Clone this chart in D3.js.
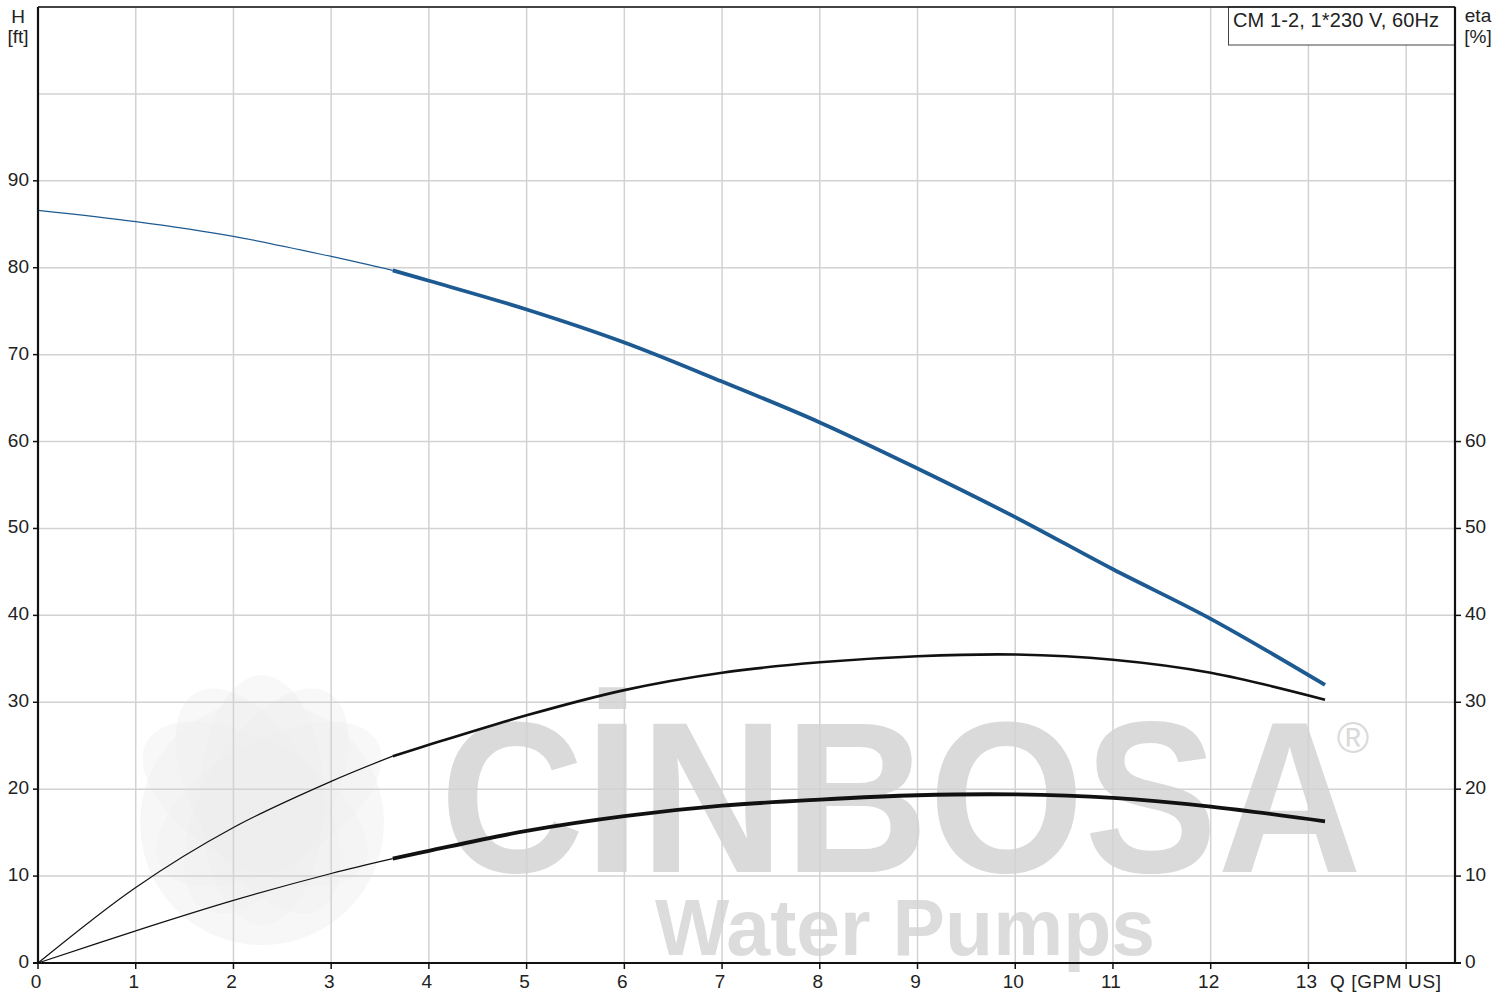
<!DOCTYPE html>
<html>
<head>
<meta charset="utf-8">
<script src="https://cdn.jsdelivr.net/npm/d3@7"></script>
<style>
  body { margin: 0; background: #fff; }
  text { font-family: "Liberation Sans", Arial, sans-serif; fill: #222; }
</style>
</head>
<body>
<div id="chart"></div>
<script>
// Données
const flow = [0, 1, 2, 3, 3.63, 4, 5, 6, 7, 8, 9, 10, 11, 12, 13.17];
const head = [86.6, 85.3, 83.6, 81.3, 79.7, 78.5, 75.2, 71.4, 66.9, 62.2, 56.9, 51.3, 45.3, 39.6, 32.0];
const etaPump = [0, 8.7, 15.6, 20.9, 23.8, 25.1, 28.5, 31.4, 33.4, 34.6, 35.3, 35.5, 34.9, 33.4, 30.3];
const etaTotal = [0, 3.7, 7.2, 10.3, 12.0, 12.9, 15.2, 16.9, 18.1, 18.8, 19.3, 19.4, 19.0, 18.0, 16.3];
const workStart = 3.63; // début de la plage de fonctionnement (trait épais)

const xTicks = d3.range(0, 15);
const xLabels = d3.range(0, 14);
const hTicks = d3.range(0, 100, 10);
const hGrid = d3.range(0, 111, 10);
const etaTicks = d3.range(0, 61, 10);
const title = "CM 1-2, 1*230 V, 60Hz";

// Dimensions du SVG
const W = 1510, H = 994;
const margin = { top: 7, right: 55, bottom: 31, left: 38 };
const fs = 19;

const svg = d3.select("#chart").append("svg")
  .attr("width", W).attr("height", H);

const x = d3.scaleLinear().domain([0, 14.5]).range([margin.left, W - margin.right]);
const y = d3.scaleLinear().domain([0, 110]).range([H - margin.bottom, margin.top]);

// Filigrane
const wm = svg.append("g");
const leaf = wm.append("g").attr("transform", "translate(262,808)");
d3.range(5).forEach(i => {
  leaf.append("ellipse")
    .attr("rx", 62).attr("ry", 125)
    .attr("transform", `rotate(${i * 30 - 60}) translate(0,-8)`)
    .attr("fill", "#e8e8e8").attr("opacity", 0.3);
});
leaf.append("circle").attr("cy", 15).attr("r", 122).attr("fill", "#f0f0f0").attr("opacity", 0.55);
wm.append("text").attr("x", 440).attr("y", 872)
  .attr("font-size", 215).attr("font-weight", "bold")
  .style("fill", "#dadada")
  .attr("textLength", 922).attr("lengthAdjust", "spacingAndGlyphs")
  .text("CİNBOSA");
wm.append("text").attr("x", 1353).attr("y", 753)
  .attr("text-anchor", "middle").attr("font-size", 44)
  .style("fill", "#dadada").text("®");
wm.append("text").attr("x", 655).attr("y", 955)
  .attr("font-size", 80).attr("font-weight", "bold")
  .style("fill", "#dcdcdc")
  .attr("textLength", 500).attr("lengthAdjust", "spacingAndGlyphs")
  .text("Water Pumps");

// Grille
const grid = svg.append("g").attr("stroke", "#d2d2d2").attr("stroke-width", 1.5);
grid.selectAll(".vg").data(xTicks).enter().append("line")
  .attr("x1", d => x(d)).attr("x2", d => x(d))
  .attr("y1", y(110)).attr("y2", y(0));
grid.selectAll(".hg").data(hGrid).enter().append("line")
  .attr("x1", x(0)).attr("x2", x(14.5))
  .attr("y1", d => y(d)).attr("y2", d => y(d));

// Courbes
const pts = vals => flow.map((q, i) => [q, vals[i]]);
const line = d3.line().x(d => x(d[0])).y(d => y(d[1])).curve(d3.curveCatmullRom.alpha(0.5));
const thin = vals => pts(vals).filter(d => d[0] <= workStart);
const thick = vals => pts(vals).filter(d => d[0] >= workStart);

const curves = [
  { vals: head, color: "#1d5a92", w: 3.8 },
  { vals: etaPump, color: "#111", w: 2.6 },
  { vals: etaTotal, color: "#111", w: 3.8 }
];
curves.forEach(c => {
  svg.append("path").attr("d", line(thin(c.vals)))
    .attr("fill", "none").attr("stroke", c.color).attr("stroke-width", 1.2);
  svg.append("path").attr("d", line(thick(c.vals)))
    .attr("fill", "none").attr("stroke", c.color).attr("stroke-width", c.w);
});

// Cartouche
svg.append("rect").attr("x", 1228.5).attr("y", margin.top)
  .attr("width", x(14.5) - 1228.5).attr("height", 38)
  .attr("fill", "#fff").attr("stroke", "#444").attr("stroke-width", 1);
svg.append("text").attr("x", 1233).attr("y", 27).attr("font-size", 20)
  .attr("textLength", 206).text(title);

// Cadre et axes
const frame = svg.append("g").attr("stroke", "#111").attr("fill", "none");
frame.append("line").attr("x1", x(0)).attr("x2", x(14.5)).attr("y1", y(110)).attr("y2", y(110)).attr("stroke-width", 1.5);
frame.append("line").attr("x1", x(0)).attr("x2", x(0)).attr("y1", y(110)).attr("y2", y(0)).attr("stroke-width", 2.2);
frame.append("line").attr("x1", x(14.5)).attr("x2", x(14.5)).attr("y1", y(110)).attr("y2", y(0)).attr("stroke-width", 2.2);
frame.append("line").attr("x1", x(0) - 5).attr("x2", x(14.5) + 6).attr("y1", y(0)).attr("y2", y(0)).attr("stroke-width", 2.2);

const ax = svg.append("g");
ax.selectAll(".xt").data(xTicks).enter().append("line")
  .attr("x1", d => x(d)).attr("x2", d => x(d))
  .attr("y1", y(0)).attr("y2", y(0) + 6)
  .attr("stroke", "#111").attr("stroke-width", 1.5);
ax.selectAll(".xl").data(xLabels).enter().append("text")
  .attr("x", d => x(d) - 2).attr("y", 988)
  .attr("text-anchor", "middle").attr("font-size", fs)
  .text(d => d);
ax.append("text").attr("x", 1330).attr("y", 988).attr("font-size", fs)
  .attr("textLength", 111).text("Q [GPM US]");

ax.selectAll(".ht").data(hTicks).enter().append("line")
  .attr("x1", x(0) - 5).attr("x2", x(0))
  .attr("y1", d => y(d)).attr("y2", d => y(d))
  .attr("stroke", "#111").attr("stroke-width", 1.5);
ax.selectAll(".hl").data(hTicks).enter().append("text")
  .attr("x", 29).attr("y", d => y(d) + 5)
  .attr("text-anchor", "end").attr("font-size", fs)
  .text(d => d);

ax.selectAll(".et").data(etaTicks).enter().append("line")
  .attr("x1", x(14.5)).attr("x2", x(14.5) + 6)
  .attr("y1", d => y(d)).attr("y2", d => y(d))
  .attr("stroke", "#111").attr("stroke-width", 1.5);
ax.selectAll(".el").data(etaTicks).enter().append("text")
  .attr("x", 1465).attr("y", d => y(d) + 5)
  .attr("font-size", fs)
  .text(d => d);

// Titres des axes
svg.append("text").attr("x", 18).attr("y", 23).attr("text-anchor", "middle").attr("font-size", fs).text("H");
svg.append("text").attr("x", 18).attr("y", 43).attr("text-anchor", "middle").attr("font-size", fs).text("[ft]");
svg.append("text").attr("x", 1478).attr("y", 22).attr("text-anchor", "middle").attr("font-size", fs).text("eta");
svg.append("text").attr("x", 1478).attr("y", 43).attr("text-anchor", "middle").attr("font-size", fs).text("[%]");
</script>
</body>
</html>
